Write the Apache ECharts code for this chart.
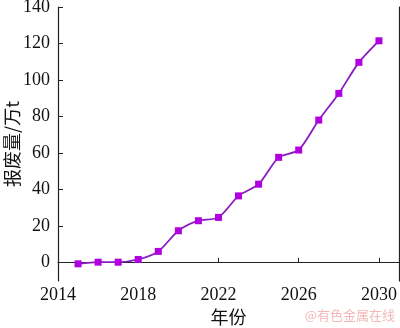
<!DOCTYPE html>
<html><head><meta charset="utf-8">
<script src="https://cdn.jsdelivr.net/npm/echarts@6/dist/echarts.min.js"></script>
<style>html,body{margin:0;padding:0;background:#fff}#c{width:400px;height:328px}</style>
</head><body><div id="c"></div>
<script>
const years = [2015,2016,2017,2018,2019,2020,2021,2022,2023,2024,2025,2026,2027,2028,2029,2030];
const scrap = [-0.6,0.3,0.3,1.8,6.2,17.5,23,24.8,36.6,43,57.7,61.7,78.1,92.7,109.7,121.5];
const yTicks = [0,20,40,60,80,100,120,140];
const xTicks = [2014,2018,2022,2026,2030];
const xTitle = '年份';
const yTitle = '报废量/万t';
const watermark = '@有色金属在线';

const chart = echarts.init(document.getElementById('c'));
const serif = '"Liberation Serif","DejaVu Serif",serif';
const cjk = '"Noto Sans CJK SC","Noto Sans",sans-serif';
chart.setOption({
  animation:false,
  grid:{left:58,right:1,top:7,bottom:47,containLabel:false,outerBoundsMode:'none'},
  xAxis:{type:'value',min:2014,max:2031,
    axisLine:{show:true,lineStyle:{color:'#222',width:1.2}},
    axisTick:{inside:true,length:5,lineStyle:{color:'#222'},customValues:xTicks},
    axisLabel:{color:'#111',fontFamily:serif,fontSize:18,margin:5,customValues:xTicks,
      formatter:v=>String(v)},
    splitLine:{show:false},
    name:xTitle,nameLocation:'middle',nameGap:27,nameMoveOverlap:false,
    nameTextStyle:{color:'#111',fontFamily:cjk,fontSize:18}},
  yAxis:[{type:'value',min:-10,max:140,
    axisLine:{show:true,lineStyle:{color:'#222',width:1.2}},
    axisTick:{inside:true,length:5,lineStyle:{color:'#222'},customValues:yTicks},
    axisLabel:{color:'#111',fontFamily:serif,fontSize:18,margin:8,customValues:yTicks,
      formatter:v=>String(v)},
    splitLine:{show:false},
    name:yTitle,nameLocation:'middle',nameGap:37,nameMoveOverlap:false,
    nameTextStyle:{color:'#111',fontFamily:cjk,fontSize:18}},
   {type:'value',min:-10,max:140,position:'right',
    axisLine:{show:true,lineStyle:{color:'#222',width:1.2}},
    axisTick:{show:false},axisLabel:{show:false},splitLine:{show:false}}],
  series:[{type:'line',data:years.map((y,i)=>[y,scrap[i]]),
    smooth:0.25,symbol:'rect',symbolSize:7,
    lineStyle:{color:'#8a1cc0',width:1.8},
    itemStyle:{color:'#b000e0'}}],
  graphic:[{type:'text',right:5,top:309,style:{text:watermark,fill:'#f2b8b8',
    font:'13px "Noto Sans CJK SC",sans-serif'}}]
});
</script></body></html>
